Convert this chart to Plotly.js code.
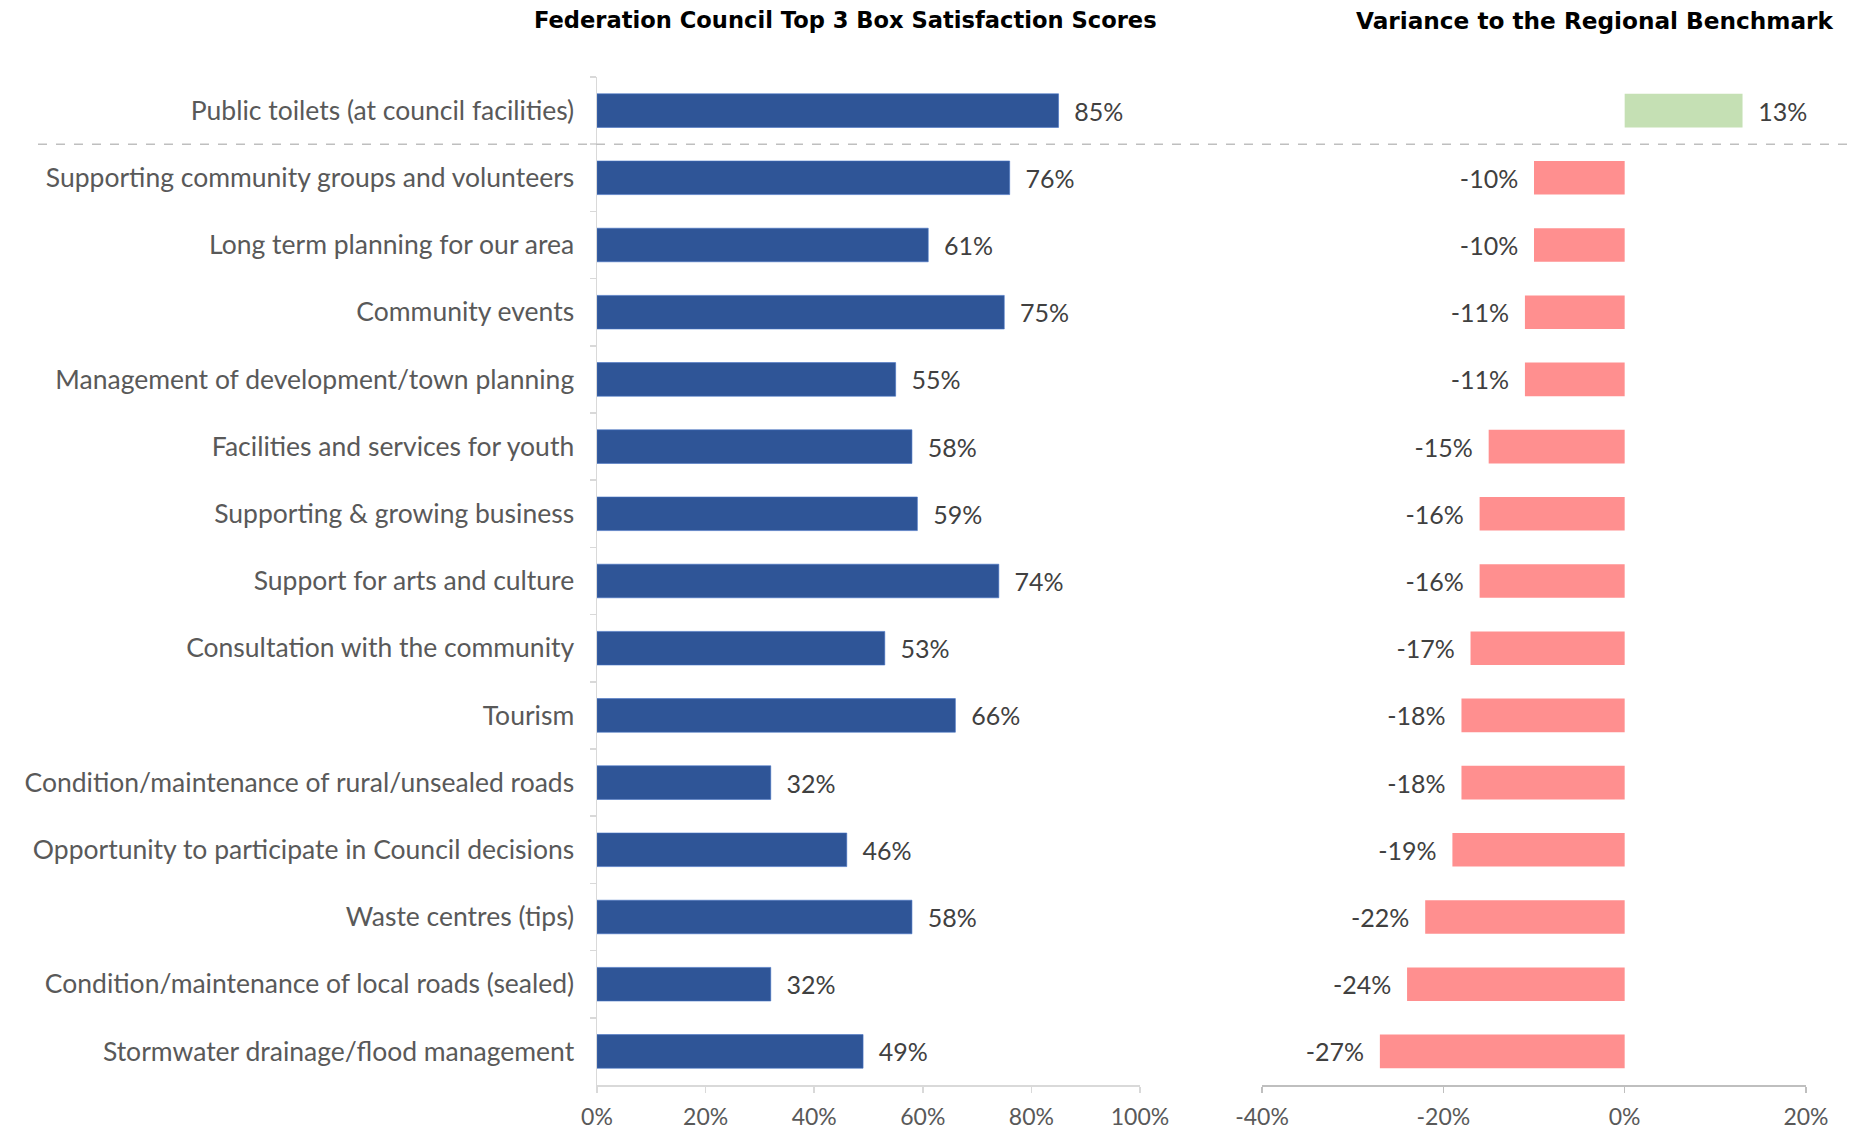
<!DOCTYPE html>
<html>
<head>
<meta charset="utf-8">
<script src="https://cdn.plot.ly/plotly-3.0.1.min.js"></script>
<style>html,body{margin:0;padding:0;background:#fff;}#chart{width:1851px;height:1129px;}</style>
</head>
<body>
<div id="chart"></div>
<script>
const categories = [
  "Public toilets (at council facilities)",
  "Supporting community groups and volunteers",
  "Long term planning for our area",
  "Community events",
  "Management of development/town planning",
  "Facilities and services for youth",
  "Supporting & growing business",
  "Support for arts and culture",
  "Consultation with the community",
  "Tourism",
  "Condition/maintenance of rural/unsealed roads",
  "Opportunity to participate in Council decisions",
  "Waste centres (tips)",
  "Condition/maintenance of local roads (sealed)",
  "Stormwater drainage/flood management"
];
const satisfaction = [85, 76, 61, 75, 55, 58, 59, 74, 53, 66, 32, 46, 58, 32, 49];
const variance = [13, -10, -10, -11, -11, -15, -16, -16, -17, -18, -18, -19, -22, -24, -27];
const leftTicks = [0, 20, 40, 60, 80, 100];
const leftTickLabels = ["0%", "20%", "40%", "60%", "80%", "100%"];
const rightTicks = [-40, -20, 0, 20];
const rightTickLabels = ["-40%", "-20%", "0%", "20%"];
const leftTitle = "Federation Council Top 3 Box Satisfaction Scores";
const rightTitle = "Variance to the Regional Benchmark";

const NB = "\u00a0";
const FONT = "Lato, 'Open Sans', sans-serif";
const TFONT = "'DejaVu Sans', sans-serif";

const traces = [
  {
    type: "bar", orientation: "h",
    y: categories, x: satisfaction,
    xaxis: "x", yaxis: "y",
    width: 0.5,
    marker: {color: "#2F5597", line: {color: "#4472C4", width: 0.6}},
    text: satisfaction.map(v => NB + NB + v + "%"),
    textposition: "outside", cliponaxis: false,
    textfont: {family: FONT, size: 25, color: "#404040"},
    hoverinfo: "skip"
  },
  {
    type: "bar", orientation: "h",
    y: categories, x: variance,
    xaxis: "x2", yaxis: "y",
    width: 0.5,
    marker: {color: variance.map(v => v >= 0 ? "#C5E0B4" : "#FF8F8F")},
    text: variance.map(v => v >= 0 ? NB + NB + v + "%" : v + "%" + NB + NB),
    textposition: "outside", cliponaxis: false,
    textfont: {family: FONT, size: 25, color: "#404040"},
    hoverinfo: "skip"
  }
];

const layout = {
  width: 1851, height: 1129,
  margin: {l: 0, r: 0, t: 77, b: 44},
  paper_bgcolor: "#fff", plot_bgcolor: "rgba(0,0,0,0)",
  showlegend: false,
  font: {family: FONT, color: "#595959"},
  bargap: 0.5,
  yaxis: {
    type: "category", autorange: "reversed",
    anchor: "x", domain: [0, 1],
    showline: true, linecolor: "#d9d9d9", linewidth: 1.5,
    ticks: "outside", tickson: "boundaries", ticklen: 6, tickcolor: "#d9d9d9", tickwidth: 1.5,
    ticklabelstandoff: 16,
    tickfont: {family: FONT, size: 26.5, color: "#595959"},
    showgrid: false, zeroline: false, fixedrange: true
  },
  xaxis: {
    domain: [597/1851, 1140/1851], anchor: "y",
    range: [0, 100], tickmode: "array", tickvals: leftTicks, ticktext: leftTickLabels,
    showline: true, linecolor: "#d9d9d9", linewidth: 1.5,
    ticks: "outside", ticklen: 6, tickcolor: "#d9d9d9", tickwidth: 1.5,
    ticklabelstandoff: 5,
    tickfont: {family: FONT, size: 23, color: "#595959"},
    showgrid: false, zeroline: false
  },
  xaxis2: {
    domain: [1262/1851, 1806/1851], anchor: "y",
    range: [-40, 20], tickmode: "array", tickvals: rightTicks, ticktext: rightTickLabels,
    showline: true, linecolor: "#bfbfbf", linewidth: 1.5,
    ticks: "outside", ticklen: 6, tickcolor: "#bfbfbf", tickwidth: 1.5,
    ticklabelstandoff: 5,
    tickfont: {family: FONT, size: 23, color: "#595959"},
    showgrid: false, zeroline: false
  },
  shapes: [
    {type: "line", xref: "paper", yref: "y", x0: 38/1851, x1: 1, y0: 0.5, y1: 0.5,
     line: {color: "#bfbfbf", width: 1.5, dash: "dash"}}
  ],
  annotations: [
    {text: "<b>" + leftTitle + "</b>", xref: "paper", yref: "paper", x: 845/1851, y: 1, yshift: 57,
     xanchor: "center", yanchor: "middle", showarrow: false,
     font: {family: TFONT, size: 22.6, color: "#000"}},
    {text: "<b>" + rightTitle + "</b>", xref: "paper", yref: "paper", x: 1836/1851, y: 1, yshift: 57,
     xanchor: "right", yanchor: "middle", showarrow: false,
     font: {family: TFONT, size: 23.2, color: "#000"}}
  ]
};

Plotly.newPlot("chart", traces, layout, {staticPlot: true, displayModeBar: false});
</script>
</body>
</html>
